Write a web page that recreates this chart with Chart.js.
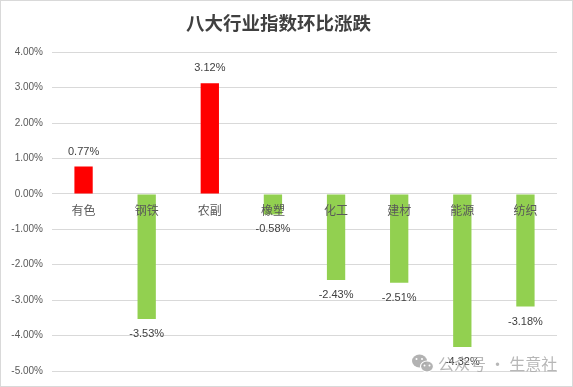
<!DOCTYPE html>
<html>
<head>
<meta charset="utf-8">
<script src="https://cdn.jsdelivr.net/npm/chart.js@4"></script>
<style>
  html, body { margin: 0; padding: 0; background: #fff; }
  #wrap { width: 573px; height: 387px; position: relative; }
</style>
</head>
<body>
<div id="wrap"><canvas id="chart"></canvas></div>
<script>
const categories = ['有色', '钢铁', '农副', '橡塑', '化工', '建材', '能源', '纺织'];
const changes = [0.77, -3.53, 3.12, -0.58, -2.43, -2.51, -4.32, -3.18];
const yMin = -5;
const yMax = 4;
const yStep = 1;

const upColor = '#ff0000';
const downColor = '#92d050';
const gridColor = '#d9d9d9';
const textColor = '#595959';
const cjkFont = '"Noto Sans CJK SC", "Noto Sans", sans-serif';
const numFont = '"Liberation Sans", Arial, sans-serif';

const pct = v => v.toFixed(2) + '%';

// value labels above positive bars, below negative ones
const valueLabels = {
    id: 'valueLabels',
    afterDatasetsDraw(chart) {
        const ctx = chart.ctx;
        const meta = chart.getDatasetMeta(0);
        ctx.save();
        ctx.font = '11px ' + numFont;
        ctx.fillStyle = '#404040';
        ctx.textAlign = 'center';
        ctx.textBaseline = 'middle';
        meta.data.forEach((bar, i) => {
            const v = changes[i];
            const y = v >= 0 ? bar.y - 15 : bar.y + 15;
            ctx.fillText(pct(v), bar.x, y);
        });
        ctx.restore();
    }
};

// outer frame + watermark
const frame = {
    id: 'frame',
    afterDraw(chart) {
        const ctx = chart.ctx;
        ctx.save();
        ctx.strokeStyle = '#d9d9d9';
        ctx.lineWidth = 1;
        ctx.strokeRect(0.5, 0.5, chart.width - 1, chart.height - 1);

        // wechat-ish icon
        ctx.fillStyle = 'rgba(170,170,170,0.9)';
        ctx.beginPath();
        ctx.ellipse(419.5, 361, 7.5, 6.5, 0, 0, Math.PI * 2);
        ctx.fill();
        ctx.strokeStyle = '#fff';
        ctx.lineWidth = 1.2;
        ctx.beginPath();
        ctx.ellipse(427, 366.5, 6.5, 5.5, 0, 0, Math.PI * 2);
        ctx.fill();
        ctx.stroke();
        ctx.fillStyle = '#fff';
        [[416.5, 359], [422, 359], [424.5, 365.5], [429.5, 365.5]].forEach(p => {
            ctx.beginPath();
            ctx.arc(p[0], p[1], 1, 0, Math.PI * 2);
            ctx.fill();
        });

        ctx.font = '16px ' + cjkFont;
        ctx.fillStyle = 'rgba(170,170,170,0.85)';
        ctx.textAlign = 'left';
        ctx.textBaseline = 'middle';
        ctx.fillText('公众号 · 生意社', 438, 364);
        ctx.restore();
    }
};

const ctx = document.getElementById('chart').getContext('2d');

new Chart(ctx, {
    type: 'bar',
    data: {
        labels: categories,
        datasets: [{
            data: changes,
            backgroundColor: changes.map(v => v >= 0 ? upColor : downColor),
            borderWidth: 0,
            categoryPercentage: 1,
            barPercentage: 0.29
        }]
    },
    options: {
        responsive: true,
        maintainAspectRatio: false,
        animation: false,
        layout: {
            padding: { top: 0, left: 0, right: 16, bottom: 16 }
        },
        plugins: {
            legend: { display: false },
            tooltip: { enabled: false },
            title: {
                display: true,
                text: '八大行业指数环比涨跌',
                color: '#404040',
                font: { family: cjkFont, size: 18.5, weight: 'bold' },
                padding: { top: 12, bottom: 18 }
            }
        },
        scales: {
            x: {
                position: { y: 0 },
                grid: { display: false },
                border: { display: false },
                ticks: {
                    z: 1,
                    color: textColor,
                    font: { family: cjkFont, size: 12 },
                    padding: 1,
                    maxRotation: 0,
                    autoSkip: false
                }
            },
            y: {
                min: yMin,
                max: yMax,
                grid: { color: gridColor, drawTicks: false },
                border: { display: false },
                ticks: {
                    stepSize: yStep,
                    color: textColor,
                    font: { family: numFont, size: 10 },
                    padding: 9,
                    callback: v => pct(v)
                },
                afterFit(scale) { scale.width = 52; }
            }
        }
    },
    plugins: [valueLabels, frame]
});
</script>
</body>
</html>
